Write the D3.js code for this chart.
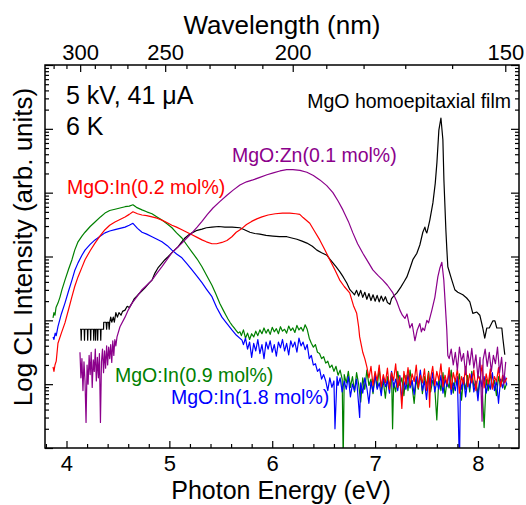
<!DOCTYPE html>
<meta charset="utf-8">
<style>
body { margin: 0; background: #fff; }
svg { font-family: "Liberation Sans", Arial, sans-serif; }
.axis path { display: none; }
.axis line { stroke: #000; stroke-width: 1.2; }
.axis text { font-size: 22px; fill: #000; }
.curve { fill: none; stroke-width: 1.2; stroke-linejoin: round; }
</style>
<svg id="svg" width="526" height="505"></svg>
<script src="https://d3js.org/d3.v7.min.js"></script>
<script>
// hc in eV*nm, for the wavelength axis on top
var HC = 1239.84;

var energyTicks = [4, 5, 6, 7, 8];
var energyMinor = [3.8, 4.2, 4.4, 4.6, 4.8, 5.2, 5.4, 5.6, 5.8, 6.2, 6.4, 6.6, 6.8, 7.2, 7.4, 7.6, 7.8, 8.2];
var wavelengthTicks = [300, 250, 200, 150];
var wavelengthMinor = [320, 310, 290, 280, 270, 260, 240, 230, 220, 210, 190, 180, 170, 160];
var decades = [1, 10, 100, 1e3, 1e4, 1e5, 1e6];

// [photon energy (eV), log10 CL intensity]
var film = [[4.131,1.86],[4.14,1.86],[4.143,1.69],[4.146,1.86],[4.16,1.86],[4.172,1.86],[4.175,1.69],[4.178,1.86],[4.195,1.86],[4.203,1.86],[4.206,1.69],[4.209,1.86],[4.225,1.86],[4.232,1.86],[4.235,1.69],[4.238,1.86],[4.255,1.86],[4.262,1.86],[4.265,1.69],[4.268,1.86],[4.28,1.86],[4.283,1.69],[4.286,1.86],[4.30,1.86],[4.303,1.69],[4.306,1.86],[4.33,1.86],[4.333,1.69],[4.336,1.86],[4.36,1.86],[4.362,1.97],[4.385,1.97],[4.39,1.86],[4.395,1.97],[4.41,1.97],[4.415,1.86],[4.42,1.97],[4.43,2.05],[4.44,1.97],[4.455,2.05],[4.465,1.97],[4.48,2.12],[4.495,2.05],[4.51,2.12],[4.53,2.08],[4.545,2.14],[4.569,2.16],[4.59,2.22],[4.61,2.20],[4.637,2.27],[4.66,2.34],[4.695,2.40],[4.72,2.44],[4.763,2.51],[4.80,2.58],[4.831,2.63],[4.86,2.74],[4.889,2.82],[4.92,2.88],[4.957,2.95],[4.99,3.00],[5.025,3.06],[5.05,3.10],[5.084,3.15],[5.12,3.23],[5.152,3.29],[5.19,3.34],[5.22,3.37],[5.27,3.41],[5.317,3.43],[5.36,3.45],[5.414,3.46],[5.48,3.47],[5.54,3.46],[5.61,3.46],[5.686,3.45],[5.73,3.42],[5.783,3.38],[5.83,3.36],[5.88,3.35],[5.94,3.33],[6.007,3.32],[6.07,3.31],[6.143,3.31],[6.19,3.29],[6.24,3.27],[6.29,3.24],[6.337,3.21],[6.39,3.16],[6.434,3.10],[6.48,3.06],[6.531,3.02],[6.56,2.96],[6.59,2.90],[6.62,2.84],[6.658,2.76],[6.69,2.68],[6.726,2.58],[6.755,2.48],[6.784,2.43],[6.80,2.40],[6.82,2.47],[6.84,2.38],[6.86,2.47],[6.88,2.36],[6.90,2.44],[6.92,2.33],[6.94,2.42],[6.96,2.31],[6.98,2.40],[7.00,2.30],[7.02,2.39],[7.04,2.29],[7.06,2.38],[7.08,2.30],[7.10,2.37],[7.12,2.28],[7.144,2.25],[7.16,2.34],[7.18,2.38],[7.212,2.43],[7.25,2.52],[7.28,2.60],[7.309,2.68],[7.34,2.82],[7.367,2.95],[7.406,3.05],[7.435,3.18],[7.464,3.38],[7.484,3.46],[7.493,3.40],[7.503,3.37],[7.515,3.45],[7.532,3.57],[7.562,3.84],[7.585,4.15],[7.601,4.47],[7.62,4.98],[7.64,5.17],[7.659,4.83],[7.669,4.20],[7.688,3.42],[7.698,3.10],[7.707,2.84],[7.746,2.63],[7.775,2.48],[7.804,2.44],[7.853,2.40],[7.89,2.35],[7.921,2.29],[7.95,2.11],[7.989,2.13],[8.018,2.08],[8.047,1.88],[8.066,1.72],[8.086,1.88],[8.11,1.88],[8.144,1.99],[8.165,1.99],[8.183,1.88],[8.212,1.88],[8.232,1.88],[8.242,1.72],[8.261,1.46]];

var zn01 = [[4.131,1.50],[4.14,1.10],[4.15,1.40],[4.16,0.90],[4.17,1.35],[4.18,1.05],[4.19,0.40],[4.20,1.30],[4.21,1.00],[4.22,1.45],[4.23,1.15],[4.24,1.50],[4.25,0.95],[4.26,1.38],[4.27,1.20],[4.28,1.55],[4.29,1.05],[4.30,1.42],[4.31,1.10],[4.32,1.48],[4.33,0.40],[4.34,1.35],[4.35,1.55],[4.36,1.18],[4.37,1.52],[4.38,1.25],[4.39,1.60],[4.40,1.30],[4.41,1.58],[4.42,1.40],[4.43,1.62],[4.44,1.34],[4.45,1.68],[4.46,1.45],[4.47,1.70],[4.48,1.60],[4.491,1.74],[4.52,1.90],[4.569,2.05],[4.60,2.16],[4.637,2.27],[4.68,2.36],[4.734,2.48],[4.78,2.55],[4.831,2.63],[4.88,2.74],[4.928,2.84],[4.98,2.96],[5.025,3.06],[5.07,3.13],[5.122,3.21],[5.17,3.29],[5.22,3.37],[5.27,3.46],[5.317,3.55],[5.37,3.66],[5.424,3.76],[5.49,3.86],[5.56,3.96],[5.62,4.04],[5.686,4.12],[5.75,4.17],[5.812,4.20],[5.88,4.24],[5.949,4.28],[6.01,4.31],[6.075,4.34],[6.14,4.36],[6.201,4.36],[6.27,4.35],[6.337,4.32],[6.40,4.27],[6.463,4.20],[6.53,4.11],[6.59,4.00],[6.64,3.87],[6.687,3.73],[6.74,3.55],[6.784,3.37],[6.83,3.20],[6.881,3.05],[6.93,2.92],[6.978,2.79],[7.03,2.70],[7.075,2.63],[7.12,2.55],[7.173,2.43],[7.21,2.30],[7.241,2.16],[7.265,2.08],[7.29,2.03],[7.31,2.10],[7.338,1.88],[7.36,1.95],[7.387,1.68],[7.41,1.85],[7.435,1.95],[7.45,1.82],[7.464,1.88],[7.48,1.84],[7.503,2.00],[7.52,1.96],[7.552,2.16],[7.581,2.36],[7.61,2.68],[7.63,2.82],[7.649,2.91],[7.668,2.63],[7.697,1.85],[7.707,1.45],[7.72,1.40],[7.74,1.55],[7.76,1.30],[7.78,1.50],[7.80,1.22],[7.82,1.58],[7.84,1.36],[7.86,1.48],[7.88,1.15],[7.90,1.52],[7.92,1.30],[7.94,1.56],[7.96,1.25],[7.98,1.46],[8.00,1.10],[8.02,1.42],[8.04,0.42],[8.05,1.38],[8.07,1.55],[8.09,1.28],[8.11,1.50],[8.13,1.20],[8.15,1.45],[8.17,1.32],[8.19,1.58],[8.21,1.18],[8.23,1.42],[8.25,1.00],[8.27,1.35]];

var in02 = [[3.869,1.27],[3.878,1.20],[3.888,1.30],[3.90,1.36],[3.917,1.64],[3.95,1.80],[3.985,1.96],[4.02,2.17],[4.053,2.37],[4.08,2.53],[4.112,2.68],[4.15,2.83],[4.18,2.95],[4.23,3.09],[4.277,3.21],[4.33,3.33],[4.374,3.42],[4.42,3.49],[4.471,3.54],[4.52,3.58],[4.569,3.62],[4.61,3.66],[4.646,3.70],[4.69,3.67],[4.734,3.65],[4.78,3.64],[4.831,3.62],[4.88,3.60],[4.928,3.57],[4.98,3.53],[5.025,3.49],[5.07,3.46],[5.122,3.42],[5.17,3.38],[5.22,3.34],[5.27,3.30],[5.317,3.26],[5.36,3.23],[5.414,3.20],[5.46,3.20],[5.511,3.22],[5.56,3.25],[5.608,3.31],[5.65,3.38],[5.706,3.44],[5.75,3.50],[5.80,3.55],[5.85,3.59],[5.90,3.62],[5.96,3.65],[6.03,3.67],[6.10,3.68],[6.17,3.68],[6.23,3.67],[6.268,3.66],[6.30,3.61],[6.365,3.52],[6.41,3.40],[6.462,3.26],[6.51,3.11],[6.559,2.95],[6.61,2.79],[6.656,2.63],[6.70,2.53],[6.753,2.43],[6.79,2.23],[6.821,2.11],[6.84,1.90],[6.85,1.74],[6.87,1.58],[6.88,1.50],[6.90,1.40],[6.92,1.27],[6.94,1.10],[6.96,1.28],[6.98,0.98],[7.00,1.20],[7.02,1.05],[7.04,1.30],[7.06,0.96],[7.08,1.15],[7.10,1.02],[7.12,1.25],[7.14,0.92],[7.16,1.18],[7.18,1.06],[7.20,1.32],[7.22,0.95],[7.24,1.12],[7.26,0.62],[7.28,1.20],[7.30,1.00],[7.32,1.26],[7.34,0.98],[7.36,1.16],[7.38,1.04],[7.40,1.30],[7.42,0.94],[7.44,1.14],[7.46,1.02],[7.48,1.24],[7.50,0.90],[7.52,1.18],[7.53,0.64],[7.54,1.10],[7.56,1.28],[7.58,0.98],[7.60,1.20],[7.62,1.06],[7.64,1.32],[7.66,0.96],[7.68,1.14],[7.70,1.00],[7.72,1.26],[7.74,0.92],[7.76,1.18],[7.78,1.04],[7.80,1.24],[7.82,0.86],[7.84,1.12],[7.86,1.00],[7.88,1.28],[7.90,0.96],[7.92,1.16],[7.94,1.02],[7.96,1.22],[7.98,0.90],[8.00,1.14],[8.02,1.06],[8.04,1.30],[8.06,0.94],[8.08,1.16],[8.10,1.00],[8.12,1.24],[8.14,0.92],[8.16,1.12],[8.18,1.04],[8.20,1.26],[8.22,0.96],[8.24,1.14],[8.26,1.02],[8.28,1.10]];

var in09 = [[3.869,2.04],[3.878,2.12],[3.888,2.08],[3.898,2.20],[3.917,2.27],[3.936,2.36],[3.956,2.48],[3.985,2.63],[4.02,2.80],[4.053,2.95],[4.08,3.10],[4.112,3.23],[4.15,3.32],[4.18,3.38],[4.23,3.47],[4.277,3.54],[4.33,3.62],[4.374,3.68],[4.42,3.72],[4.471,3.74],[4.52,3.76],[4.569,3.78],[4.61,3.79],[4.646,3.81],[4.68,3.77],[4.734,3.73],[4.78,3.70],[4.831,3.67],[4.88,3.62],[4.928,3.57],[4.98,3.51],[5.025,3.45],[5.07,3.37],[5.122,3.29],[5.17,3.18],[5.22,3.07],[5.27,2.96],[5.317,2.84],[5.36,2.71],[5.414,2.55],[5.45,2.42],[5.492,2.26],[5.53,2.14],[5.55,2.08],[5.57,2.02],[5.589,1.97],[5.61,1.92],[5.63,1.88],[5.65,1.84],[5.67,1.80],[5.686,1.82],[5.70,1.76],[5.72,1.85],[5.74,1.72],[5.76,1.80],[5.78,1.70],[5.80,1.79],[5.82,1.74],[5.84,1.83],[5.86,1.76],[5.88,1.85],[5.90,1.79],[5.92,1.88],[5.94,1.80],[5.96,1.86],[5.98,1.78],[6.00,1.89],[6.02,1.82],[6.04,1.87],[6.06,1.79],[6.08,1.90],[6.10,1.83],[6.12,1.86],[6.14,1.80],[6.16,1.91],[6.18,1.84],[6.20,1.88],[6.22,1.81],[6.24,1.92],[6.26,1.85],[6.28,1.89],[6.30,1.83],[6.32,1.93],[6.34,1.86],[6.36,1.72],[6.38,1.64],[6.40,1.58],[6.42,1.62],[6.44,1.50],[6.46,1.48],[6.48,1.40],[6.50,1.43],[6.52,1.33],[6.54,1.36],[6.56,1.26],[6.58,1.30],[6.60,1.20],[6.62,1.28],[6.64,1.14],[6.66,1.22],[6.68,1.08],[6.69,-0.2],[6.70,1.15],[6.72,1.02],[6.74,1.20],[6.76,0.95],[6.78,1.12],[6.80,0.88],[6.82,1.18],[6.84,1.00],[6.86,0.72],[6.88,1.10],[6.90,0.92],[6.92,1.22],[6.94,0.98],[6.96,1.08],[6.98,0.85],[7.00,1.15],[7.02,0.95],[7.04,1.25],[7.06,0.90],[7.08,1.05],[7.10,0.78],[7.12,1.12],[7.14,0.96],[7.16,1.18],[7.17,0.30],[7.18,1.02],[7.20,0.88],[7.22,1.20],[7.24,0.98],[7.26,1.10],[7.28,0.82],[7.30,1.14],[7.32,0.90],[7.34,1.22],[7.36,0.96],[7.38,0.70],[7.40,1.08],[7.42,0.92],[7.44,1.16],[7.46,0.85],[7.48,1.12],[7.50,0.98],[7.52,1.20],[7.54,0.88],[7.56,1.06],[7.58,0.95],[7.60,0.44],[7.62,1.10],[7.64,0.90],[7.66,1.18],[7.68,0.80],[7.70,1.05],[7.72,0.94],[7.74,1.22],[7.76,0.86],[7.78,1.08],[7.80,0.98],[7.82,1.16],[7.84,0.75],[7.86,1.10],[7.88,0.92],[7.90,1.14],[7.92,0.88],[7.94,1.20],[7.96,0.96],[7.98,1.05],[8.00,0.84],[8.02,1.12],[8.04,0.95],[8.06,0.32],[8.08,1.08],[8.10,0.90],[8.12,1.18],[8.14,0.94],[8.16,1.06],[8.18,0.82],[8.20,1.12],[8.22,0.96],[8.24,1.10],[8.26,0.92],[8.28,1.02]];

var in18 = [[3.869,1.74],[3.878,1.70],[3.89,1.80],[3.90,1.76],[3.917,1.90],[3.95,2.10],[3.985,2.27],[4.02,2.46],[4.053,2.63],[4.08,2.78],[4.112,2.90],[4.15,3.02],[4.18,3.10],[4.23,3.19],[4.277,3.26],[4.33,3.32],[4.374,3.37],[4.42,3.40],[4.471,3.42],[4.52,3.44],[4.569,3.46],[4.61,3.49],[4.646,3.52],[4.69,3.44],[4.734,3.38],[4.78,3.35],[4.831,3.31],[4.88,3.27],[4.928,3.23],[4.98,3.17],[5.025,3.10],[5.07,3.04],[5.122,2.98],[5.17,2.89],[5.22,2.79],[5.27,2.69],[5.317,2.59],[5.36,2.49],[5.414,2.37],[5.46,2.20],[5.511,2.05],[5.56,1.95],[5.608,1.85],[5.65,1.77],[5.706,1.69],[5.72,1.62],[5.74,1.72],[5.76,1.55],[5.78,1.66],[5.80,1.42],[5.82,1.64],[5.84,1.52],[5.86,1.70],[5.88,1.48],[5.90,1.62],[5.92,1.40],[5.94,1.66],[5.96,1.55],[5.98,1.68],[6.00,1.50],[6.02,1.62],[6.04,1.44],[6.06,1.66],[6.08,1.57],[6.10,1.70],[6.12,1.52],[6.14,1.64],[6.16,1.46],[6.18,1.68],[6.20,1.58],[6.22,1.66],[6.24,1.50],[6.26,1.72],[6.28,1.60],[6.30,1.66],[6.32,1.54],[6.34,1.62],[6.36,1.40],[6.38,1.45],[6.40,1.30],[6.42,1.32],[6.44,1.20],[6.46,1.24],[6.48,1.08],[6.50,1.15],[6.52,1.05],[6.54,0.90],[6.56,1.10],[6.58,0.95],[6.60,1.05],[6.61,0.30],[6.63,1.12],[6.64,0.98],[6.66,1.10],[6.68,0.88],[6.70,1.05],[6.72,0.92],[6.74,1.12],[6.76,0.80],[6.78,1.00],[6.80,0.90],[6.82,1.08],[6.85,0.48],[6.86,1.02],[6.88,0.86],[6.90,1.10],[6.92,0.94],[6.94,0.70],[6.96,1.04],[6.98,0.88],[7.00,1.16],[7.02,0.92],[7.04,1.02],[7.06,0.82],[7.08,1.12],[7.10,0.96],[7.12,1.05],[7.14,0.86],[7.16,1.20],[7.18,0.95],[7.20,1.08],[7.22,0.90],[7.24,1.14],[7.26,0.78],[7.28,1.04],[7.30,0.92],[7.32,1.16],[7.34,0.94],[7.36,1.06],[7.38,0.84],[7.40,1.12],[7.42,0.98],[7.44,1.22],[7.46,0.90],[7.48,1.05],[7.50,0.76],[7.52,1.10],[7.54,0.95],[7.56,1.18],[7.58,0.88],[7.60,1.04],[7.62,0.92],[7.64,1.14],[7.66,0.86],[7.68,1.08],[7.70,0.96],[7.72,1.20],[7.74,0.84],[7.76,1.02],[7.78,0.90],[7.80,1.12],[7.82,-0.3],[7.83,1.05],[7.84,0.92],[7.86,1.10],[7.88,0.80],[7.90,1.06],[7.92,0.94],[7.94,1.16],[7.96,0.88],[7.98,1.04],[8.00,0.74],[8.02,1.10],[8.04,0.96],[8.06,1.12],[8.08,0.86],[8.10,1.02],[8.12,0.92],[8.14,1.18],[8.16,0.90],[8.18,1.06],[8.20,0.70],[8.22,1.08],[8.24,0.94],[8.26,1.12],[8.28,0.98]];

var seriesNames = ["MgO homoepitaxial film", "MgO:In(0.9 mol%)", "MgO:In(1.8 mol%)", "MgO:In(0.2 mol%)", "MgO:Zn(0.1 mol%)"];
var seriesData = [film, in09, in18, in02, zn01];
var seriesColors = ["#000000", "#008000", "#0000ff", "#ff0000", "#8b008b"];

var svg = d3.select("svg"),
    box = {left: 45, top: 65, right: 519, bottom: 448};

var x = d3.scaleLinear().domain([3.791, 8.399]).range([box.left, box.right]);
var y = d3.scaleLog().domain([1, 1e6]).range([box.bottom, box.top]);

svg.append("defs").append("clipPath").attr("id", "plotclip")
  .append("rect")
    .attr("x", box.left).attr("y", box.top)
    .attr("width", box.right - box.left).attr("height", box.bottom - box.top);

// curves
var line = d3.line()
    .x(function(d) { return x(d[0]); })
    .y(function(d) { return y(Math.pow(10, d[1])); });

svg.append("g").attr("clip-path", "url(#plotclip)")
  .selectAll("path")
  .data(seriesData)
  .enter().append("path")
    .attr("class", "curve")
    .attr("stroke", function(d, i) { return seriesColors[i]; })
    .attr("d", line);

// bottom axis: photon energy
svg.append("g").attr("class", "axis")
    .attr("transform", "translate(0," + box.bottom + ")")
    .call(d3.axisBottom(x).tickValues(energyTicks).tickFormat(d3.format("d"))
      .tickSizeInner(-7).tickSizeOuter(0).tickPadding(7));
svg.append("g").attr("class", "axis")
    .attr("transform", "translate(0," + box.bottom + ")")
    .call(d3.axisBottom(x).tickValues(energyMinor).tickSizeInner(-4).tickSizeOuter(0).tickFormat(""));

// top axis: wavelength
svg.append("g").attr("class", "axis")
    .attr("transform", "translate(0," + box.top + ")")
    .call(d3.axisTop(x)
      .tickValues(wavelengthTicks.map(function(l) { return HC / l; }))
      .tickFormat(function(e) { return Math.round(HC / e); })
      .tickSizeInner(-7).tickSizeOuter(0).tickPadding(5));
svg.append("g").attr("class", "axis")
    .attr("transform", "translate(0," + box.top + ")")
    .call(d3.axisTop(x)
      .tickValues(wavelengthMinor.map(function(l) { return HC / l; }))
      .tickSizeInner(-4).tickSizeOuter(0).tickFormat(""));

// left and right: log ticks, no labels
var minorY = [];
decades.slice(0, -1).forEach(function(d) {
  for (var k = 2; k < 10; k++) minorY.push(d * k);
});
[["left", box.left], ["right", box.right]].forEach(function(side) {
  var mk = side[0] == "left" ? d3.axisLeft : d3.axisRight;
  svg.append("g").attr("class", "axis")
      .attr("transform", "translate(" + side[1] + ",0)")
      .call(mk(y).tickValues(decades).tickSizeInner(-8).tickSizeOuter(0).tickFormat(""));
  svg.append("g").attr("class", "axis")
      .attr("transform", "translate(" + side[1] + ",0)")
      .call(mk(y).tickValues(minorY).tickSizeInner(-4).tickSizeOuter(0).tickFormat(""));
});

svg.append("rect")
    .attr("x", box.left).attr("y", box.top)
    .attr("width", box.right - box.left).attr("height", box.bottom - box.top)
    .attr("fill", "none").attr("stroke", "#000").attr("stroke-width", 1.5);

// titles
svg.append("text")
    .attr("x", (box.left + box.right) / 2).attr("y", 34)
    .attr("text-anchor", "middle").attr("font-size", 26)
    .text("Wavelength (nm)");
svg.append("text")
    .attr("x", 281).attr("y", 499)
    .attr("text-anchor", "middle").attr("font-size", 25)
    .text("Photon Energy (eV)");
svg.append("text")
    .attr("transform", "translate(32,247) rotate(-90)")
    .attr("text-anchor", "middle").attr("font-size", 26)
    .text("Log CL Intensity (arb. units)");

// annotations
svg.append("text").attr("x", 66).attr("y", 104).attr("font-size", 25).text("5 kV, 41 \u03bcA");
svg.append("text").attr("x", 66).attr("y", 135).attr("font-size", 25).text("6 K");

var labels = [
  {i: 0, x: 511, y: 108, anchor: "end"},
  {i: 4, x: 232, y: 162, anchor: "start"},
  {i: 3, x: 67, y: 194, anchor: "start"},
  {i: 1, x: 115, y: 382, anchor: "start"},
  {i: 2, x: 171, y: 404, anchor: "start"}
];
svg.selectAll(".lab")
  .data(labels)
  .enter().append("text")
    .attr("class", "lab")
    .attr("x", function(d) { return d.x; })
    .attr("y", function(d) { return d.y; })
    .attr("text-anchor", function(d) { return d.anchor; })
    .attr("font-size", 19.5)
    .attr("fill", function(d) { return seriesColors[d.i]; })
    .text(function(d) { return seriesNames[d.i]; });
</script>
